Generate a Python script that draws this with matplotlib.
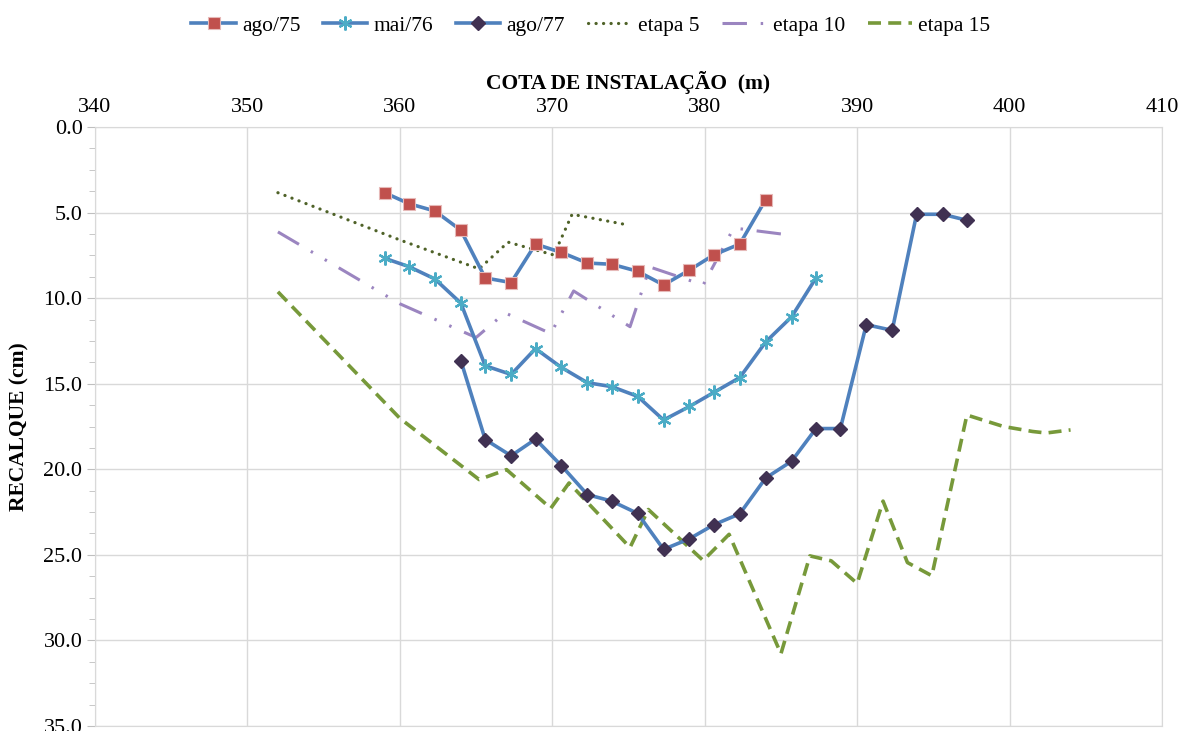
import matplotlib
matplotlib.use("Agg")
import matplotlib.pyplot as plt
from matplotlib.ticker import MultipleLocator, FormatStrFormatter

# estacas de instalacao (m) usadas pelas leituras de campo
estacas = [359.0, 360.6, 362.3, 364.0, 365.6, 367.3, 368.9, 370.6, 372.3, 373.9, 375.6, 377.3,
           379.0, 380.6, 382.3, 384.0, 385.7, 387.3, 388.9, 390.6, 392.3, 393.9, 395.6, 397.2]

# recalques medidos (cm)
ago75 = [3.84, 4.48, 4.91, 6.03, 8.82, 9.09, 6.84, 7.33, 7.95, 8.02, 8.43, 9.23, 8.36, 7.47, 6.84, 4.24]
mai76 = [7.67, 8.16, 8.88, 10.29, 13.95, 14.46, 12.95, 14.05, 14.94, 15.17, 15.74, 17.12, 16.33, 15.51,
         14.64, 12.56, 11.09, 8.82]
ago77 = [13.65, 18.26, 19.21, 18.24, 19.79, 21.48, 21.86, 22.58, 24.68, 24.06, 23.24, 22.60, 20.51,
         19.53, 17.62, 17.62, 11.55, 11.88, 5.10, 5.10, 5.45]

# etapas do calculo
etapa5_x = [352.0, 360.0, 365.2, 367.1, 370.1, 371.3, 374.7]
etapa5_y = [3.84, 6.60, 8.29, 6.73, 7.48, 5.10, 5.68]

etapa10_x = [352.0, 360.0, 365.0, 366.9, 369.9, 371.4, 375.1, 376.4, 379.9, 381.9, 385.1]
etapa10_y = [6.13, 10.33, 12.30, 10.86, 12.07, 9.58, 11.67, 8.18, 9.23, 5.90, 6.26]

etapa15_x = [352.0, 360.0, 365.2, 367.0, 369.9, 371.1, 375.1, 376.3, 379.9, 381.6, 385.0, 386.9,
             388.3, 390.0, 391.7, 393.3, 394.9, 397.2, 399.6, 401.5, 402.4, 404.0]
etapa15_y = [9.63, 17.02, 20.60, 20.02, 22.28, 20.80, 24.57, 22.35, 25.33, 23.80, 30.78, 25.06,
             25.35, 26.67, 21.86, 25.45, 26.22, 16.83, 17.50, 17.79, 17.88, 17.70]

plt.rcParams['font.family'] = ['Liberation Serif', 'DejaVu Serif']

fig = plt.figure(figsize=(11.82, 7.31), dpi=100)
ax = fig.add_axes([95 / 1182, 5 / 731, (1162 - 95) / 1182, (726 - 127) / 731])

linha = '#4F81BD'
ax.plot(estacas[:16], ago75, color=linha, lw=2.6, marker='s', ms=9, mfc='#C0504D',
        mec='#E6B9B8', mew=0.8, label='ago/75', zorder=5)
ax.plot(estacas[:18], mai76, color=linha, lw=2.6, marker=(6, 2, 0), ms=10, mec='#4BACC6',
        mew=1.6, label='mai/76', zorder=5)
ax.plot(estacas[3:24], ago77, color=linha, lw=2.6, marker='D', ms=7.5, mfc='#403152',
        mec='#403152', label='ago/77', zorder=5)

ax.plot(etapa5_x, etapa5_y, color='#4F6228', lw=2.3, dashes=(0.05, 2.3),
        dash_capstyle='round', label='etapa 5', zorder=4)
ax.plot(etapa10_x, etapa10_y, color='#9B85C0', lw=2.2, dashes=(8, 4.5, 0.8, 4.5, 0.8, 4.5),
        label='etapa 10', zorder=4)
ax.plot(etapa15_x, etapa15_y, color='#77993A', lw=2.6, dashes=(3.6, 2.0),
        label='etapa 15', zorder=4)

ax.set_xlim(340, 410)
ax.set_ylim(35, 0)
ax.xaxis.set_major_locator(MultipleLocator(10))
ax.yaxis.set_major_locator(MultipleLocator(5))
ax.yaxis.set_minor_locator(MultipleLocator(1.25))
ax.yaxis.set_major_formatter(FormatStrFormatter('%.1f'))

ax.xaxis.tick_top()
ax.xaxis.set_label_position('top')
ax.tick_params(axis='x', length=0, labelsize=16, pad=7, colors='#000000')
ax.tick_params(axis='y', which='major', length=6, color='#BFBFBF', labelsize=16, pad=3)
ax.tick_params(axis='y', which='minor', length=4, color='#BFBFBF')

ax.grid(True, which='major', color='#D9D9D9', lw=1.0)
ax.set_axisbelow(True)
for s in ax.spines.values():
    s.set_color('#D9D9D9')

ax.set_xlabel('COTA DE INSTALAÇÃO  (m)', fontsize=15.5, fontweight='bold', labelpad=7)
ax.set_ylabel('RECALQUE (cm)', fontsize=15.5, fontweight='bold', labelpad=10)

fig.legend(loc='upper center', bbox_to_anchor=(0.5, 1.005), ncol=6, frameon=False,
           fontsize=15.5, handlelength=2.05, columnspacing=1.05, handletextpad=0.3)

fig.savefig('out.png', dpi=100)
